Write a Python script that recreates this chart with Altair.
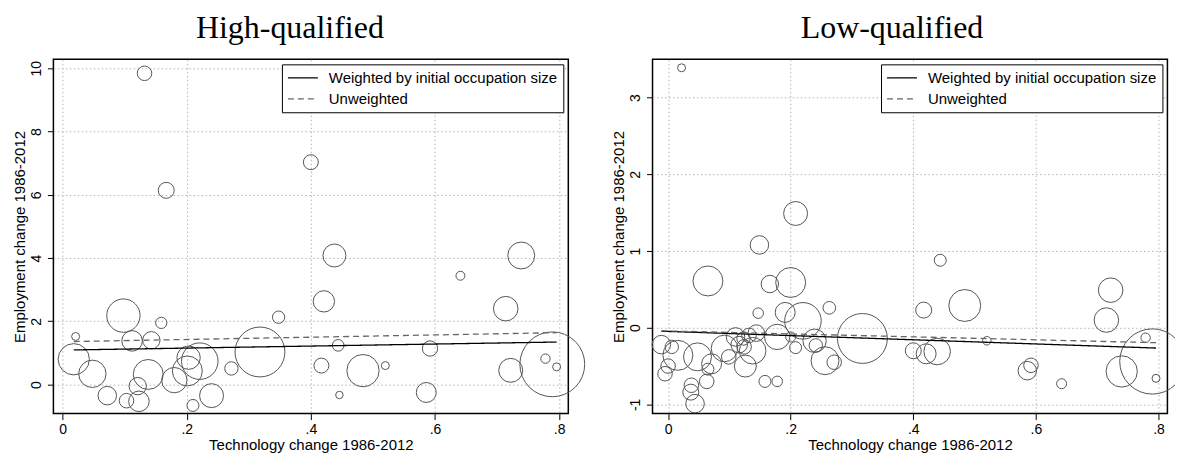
import altair as alt
import pandas as pd

# ---------------- data ----------------
fit_series = ["Weighted by initial occupation size", "Unweighted"]

# High-qualified panel: technology change, employment change, initial occupation size (relative)
hq_tech = [0.021, 0.098, 0.159, 0.112, 0.143, 0.018, 0.048, 0.072, 0.103, 0.121,
           0.123, 0.138, 0.180, 0.203, 0.201, 0.221, 0.210, 0.240, 0.272, 0.318,
           0.444, 0.417, 0.446, 0.484, 0.520, 0.592, 0.586, 0.722, 0.641, 0.421,
           0.714, 0.348, 0.438, 0.739, 0.778, 0.796, 0.789, 0.132, 0.167, 0.400]
hq_emp = [1.52, 2.18, 1.95, 1.38, 1.40, 0.80, 0.34, -0.35, -0.51, -0.05,
          -0.53, 0.32, 0.14, 0.85, 0.43, 0.74, -0.66, -0.35, 0.51, 1.03,
          1.24, 0.60, -0.33, 0.44, 0.60, 1.14, -0.25, 0.45, 3.44, 2.63,
          2.40, 2.13, 4.08, 4.08, 0.82, 0.56, 0.64, 9.84, 6.14, 7.03]
hq_weight = [16, 279, 32, 106, 76, 246, 188, 86, 53, 76,
             106, 225, 161, 137, 225, 335, 36, 144, 45, 625,
             34, 56, 14, 262, 16, 59, 100, 144, 20, 114,
             151, 38, 132, 182, 22, 16, 1056, 53, 64, 56]

# Low-qualified panel
lq_tech = [0.149, 0.065, 0.166, 0.200, 0.147, 0.191, 0.220, 0.263, 0.317, -0.011,
           0.006, 0.016, 0.000, -0.005, 0.048, 0.071, 0.065, 0.063, 0.038, 0.037,
           0.044, 0.099, 0.092, 0.110, 0.116, 0.123, 0.124, 0.132, 0.138, 0.126,
           0.144, 0.158, 0.178, 0.178, 0.200, 0.208, 0.239, 0.241, 0.256, 0.271,
           0.444, 0.417, 0.484, 0.400, 0.421, 0.439, 0.520, 0.586, 0.592, 0.722,
           0.715, 0.779, 0.796, 0.740, 0.790, 0.642, 0.022, 0.208]
lq_emp = [1.08, 0.61, 0.57, 0.59, 0.19, 0.20, 0.09, 0.26, -0.14, -0.22,
          -0.25, -0.36, -0.50, -0.60, -0.38, -0.47, -0.54, -0.70, -0.75, -0.84,
          -0.99, -0.38, -0.27, -0.12, -0.22, -0.14, -0.25, -0.10, -0.30, -0.50,
          -0.07, -0.70, -0.70, -0.12, -0.12, -0.26, -0.17, -0.23, -0.43, -0.45,
          0.88, 0.23, 0.29, -0.30, -0.34, -0.31, -0.17, -0.56, -0.49, 0.49,
          0.10, -0.13, -0.66, -0.57, -0.44, -0.73, 3.39, 1.49]
lq_weight = [86, 225, 76, 225, 28, 100, 335, 40, 625, 86,
             45, 225, 53, 53, 196, 100, 36, 53, 53, 64,
             86, 53, 177, 86, 69, 45, 53, 53, 177, 121,
             69, 36, 28, 161, 25, 36, 137, 45, 196, 53,
             36, 64, 256, 64, 100, 177, 18, 86, 53, 151,
             151, 22, 16, 246, 1069, 25, 16, 144]

# fitted lines (end points)
hq_fit_x = [0.018, 0.796]
hq_fit_weighted = [1.095, 1.344]
hq_fit_unweighted = [1.36, 1.64]
lq_fit_x = [-0.011, 0.796]
lq_fit_weighted = [-0.045, -0.265]
lq_fit_unweighted = [-0.04, -0.195]

x_ticks = [0, 0.2, 0.4, 0.6, 0.8]
hq_y_ticks = [0, 2, 4, 6, 8, 10]
lq_y_ticks = [-1, 0, 1, 2, 3]

FONT = "Liberation Sans"


def fit_frame(xs, w, u):
    return pd.DataFrame({
        "tech": xs + xs,
        "emp": w + u,
        "series": [fit_series[0]] * len(xs) + [fit_series[1]] * len(xs),
    })


def panel(pts, fit, xdom, ydom, yvals, title, dx):
    xs = alt.Scale(domain=xdom, nice=False, zero=False)
    ys = alt.Scale(domain=ydom, nice=False, zero=False)
    xax = alt.Axis(values=x_ticks, labelFlush=False,
                   labelExpr="datum.value == 0 ? '0' : slice(format(datum.value, '.1f'), 1)",
                   title="Technology change 1986-2012")
    yax = alt.Axis(values=yvals, labelExpr="'' + datum.value", labelAngle=270,
                   labelAlign="center", labelBaseline="alphabetic", labelOverlap=False,
                   title="Employment change 1986-2012")
    leg = alt.Legend(title=None, orient="top-right", offset=5, strokeColor="black",
                     fillColor="white", padding=5, labelFontSize=15, labelFont=FONT,
                     labelColor="black", symbolType="M-1,0H3", symbolSize=225,
                     symbolStrokeWidth=1.3, rowPadding=4, labelOffset=25, labelLimit=500,
                     cornerRadius=0)
    circles = alt.Chart(pts).mark_point(shape="circle", filled=False, color="#555555",
                                        strokeWidth=1, opacity=1).encode(
        x=alt.X("tech:Q", scale=xs, axis=xax),
        y=alt.Y("emp:Q", scale=ys, axis=yax),
        size=alt.Size("weight:Q", scale=alt.Scale(type="linear", domain=[0, 1000], range=[0, 4000]),
                      legend=None),
    )
    lines = alt.Chart(fit).mark_line(strokeWidth=1.3).encode(
        x=alt.X("tech:Q", scale=xs),
        y=alt.Y("emp:Q", scale=ys),
        color=alt.Color("series:N", scale=alt.Scale(domain=fit_series, range=["#000000", "#666666"]),
                        legend=leg),
        strokeDash=alt.StrokeDash("series:N", scale=alt.Scale(domain=fit_series, range=[[1, 0], [6, 4]]),
                                  legend=leg),
    )
    return alt.layer(circles, lines).properties(
        width=516, height=355,
        title=alt.TitleParams(title, font="Liberation Serif", fontSize=32, fontWeight="normal",
                              color="black", anchor="middle", frame="group", offset=-11,
                              baseline="alphabetic", dx=dx),
    )


hq_pts = pd.DataFrame({"tech": hq_tech, "emp": hq_emp, "weight": hq_weight})
lq_pts = pd.DataFrame({"tech": lq_tech, "emp": lq_emp, "weight": lq_weight})

left = panel(hq_pts, fit_frame(hq_fit_x, hq_fit_weighted, hq_fit_unweighted),
             [-0.0148, 0.8148], [-0.918, 10.28], hq_y_ticks, "High-qualified", -21)
right = panel(lq_pts, fit_frame(lq_fit_x, lq_fit_weighted, lq_fit_unweighted),
              [-0.0254, 0.8146], [-1.12, 3.50], lq_y_ticks, "Low-qualified", -18)

chart = alt.hconcat(left, right, spacing=84.4, bounds="flush").resolve_scale(
    x="independent", y="independent", size="independent",
    color="independent", strokeDash="independent",
).resolve_legend(color="independent", strokeDash="independent").properties(
    padding={"left": 3.5, "top": 3, "right": -13, "bottom": 0},
    background="white",
).configure_view(stroke="black", strokeWidth=1.5, fill="white").configure_axis(
    labelFont=FONT, titleFont=FONT, labelFontSize=14, titleFontSize=15,
    titleFontWeight="normal", labelColor="black", titleColor="black",
    tickColor="black", tickSize=6, tickWidth=1, domain=False, grid=True,
    gridColor="#b5b5b5", gridDash=[1.5, 2.5], gridWidth=1,
).configure_axisX(labelPadding=3, titlePadding=1).configure_axisY(labelPadding=7, titlePadding=2)

chart.save("out.html", embed_options={"renderer": "svg", "actions": False})
